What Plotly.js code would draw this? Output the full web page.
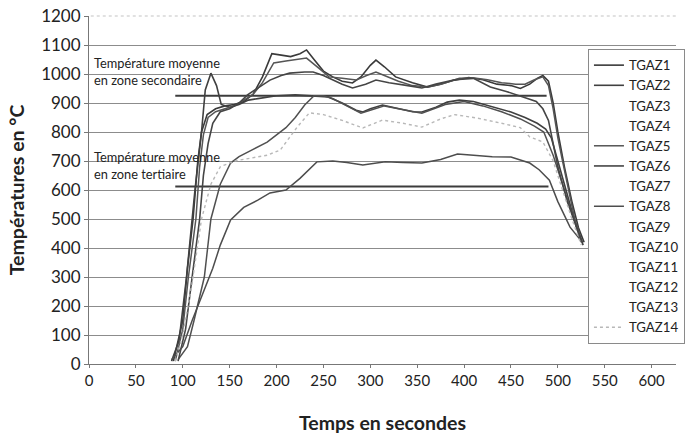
<!DOCTYPE html>
<html>
<head>
<meta charset="utf-8">
<script src="https://cdn.plot.ly/plotly-3.0.1.min.js"></script>
<style>
  html, body { margin: 0; padding: 0; background: #fff; }
  #chart { width: 685px; height: 434px; }
</style>
</head>
<body>
<div id="chart"></div>
<script>
// ---- Data ----
const seriesNames = ["TGAZ1","TGAZ2","TGAZ3","TGAZ4","TGAZ5","TGAZ6","TGAZ7","TGAZ8","TGAZ9","TGAZ10","TGAZ11","TGAZ12","TGAZ13","TGAZ14"];

// TGAZ1 - highest curve (peak ~1080)
const tgaz1T = [90, 100, 105, 111, 116, 120, 126, 135, 145, 155, 165, 175, 185, 195, 205, 215, 225, 232, 240, 250, 260, 270, 281, 290, 300, 306, 315, 327, 345, 361, 375, 390, 405, 420, 435, 450, 460, 470, 478, 484, 490, 495, 500, 507, 515, 522, 528];
const tgaz1V = [10, 150, 330, 500, 700, 800, 860, 880, 890, 895, 905, 930, 990, 1070, 1065, 1060, 1070, 1083, 1050, 1010, 990, 975, 969, 990, 1030, 1048, 1025, 990, 970, 955, 965, 979, 988, 980, 965, 960, 950, 965, 985, 995, 975, 900, 800, 680, 560, 470, 420];

// TGAZ2 - early peak (~1000 at 130 s) then ~920 plateau
const tgaz2T = [88, 96, 104, 113, 120, 124, 130, 136, 141, 150, 160, 170, 180, 190, 200, 220, 240, 255, 270, 285, 292, 300, 313, 330, 345, 355, 370, 382, 395, 410, 424, 440, 450, 465, 478, 487, 493, 500, 510, 520, 527];
const tgaz2V = [10, 80, 300, 600, 800, 945, 1003, 960, 895, 885, 895, 910, 915, 920, 925, 928, 925, 921, 900, 875, 869, 880, 893, 880, 870, 869, 885, 903, 910, 905, 893, 880, 869, 850, 830, 810, 780, 700, 580, 470, 410];

// TGAZ4 - slower rise, ~790 at 200 s, ~925 at 240 s
const tgaz4T = [95, 105, 112, 123, 130, 140, 151, 160, 175, 190, 200, 210, 220, 230, 240, 250, 260, 275, 290, 305, 315, 330, 355, 380, 400, 420, 440, 460, 475, 485, 495, 505, 515, 525];
const tgaz4V = [15, 60, 150, 300, 500, 620, 693, 715, 740, 765, 790, 815, 850, 893, 925, 925, 915, 890, 865, 880, 890, 880, 865, 895, 905, 890, 870, 845, 820, 800, 720, 620, 520, 420];

// TGAZ5 - second highest (peak ~1055)
const tgaz5T = [92, 100, 106, 114, 118, 122, 127, 135, 145, 155, 165, 175, 185, 197, 210, 220, 232, 245, 256, 270, 285, 296, 306, 315, 330, 345, 361, 375, 395, 411, 425, 440, 455, 465, 475, 484, 490, 495, 500, 505, 510, 518, 526];
const tgaz5V = [10, 120, 300, 500, 680, 790, 850, 870, 880, 890, 910, 930, 970, 1038, 1045, 1050, 1055, 1020, 990, 985, 979, 995, 1007, 995, 975, 960, 955, 965, 985, 986, 980, 970, 965, 965, 980, 990, 960, 880, 780, 700, 620, 500, 420];

// TGAZ6 - rises to ~1005 around 215-240 s, declines before the end
const tgaz6T = [95, 103, 110, 118, 122, 127, 132, 140, 150, 160, 169, 180, 193, 205, 214, 230, 239, 250, 260, 270, 281, 295, 306, 320, 340, 355, 370, 390, 410, 428, 445, 463, 477, 484, 490, 495, 500, 510, 520, 526];
const tgaz6V = [10, 120, 300, 500, 650, 760, 830, 870, 880, 900, 928, 950, 979, 995, 1003, 1007, 1007, 995, 980, 965, 952, 965, 979, 970, 960, 952, 965, 980, 985, 955, 940, 921, 905, 880, 840, 760, 680, 560, 470, 420];

// TGAZ8 - lowest curve (~700 plateau)
const tgaz8T = [88, 100, 110, 120, 132, 140, 151, 165, 180, 193, 210, 225, 243, 260, 275, 292, 305, 316, 335, 355, 375, 393, 410, 430, 450, 470, 480, 491, 500, 513, 524];
const tgaz8V = [15, 60, 150, 230, 330, 410, 497, 540, 565, 590, 600, 640, 697, 700, 695, 686, 692, 697, 695, 693, 705, 724, 720, 715, 714, 693, 670, 634, 560, 472, 428];

// TGAZ14 - light dotted curve (~860 plateau)
const tgaz14T = [92, 100, 110, 120, 130, 140, 155, 175, 190, 204, 222, 235, 250, 270, 292, 313, 335, 355, 375, 390, 414, 440, 460, 470, 484, 495, 505, 515, 525];
const tgaz14V = [10, 100, 280, 500, 620, 680, 700, 710, 720, 738, 817, 866, 860, 840, 814, 841, 830, 817, 845, 860, 848, 830, 815, 783, 766, 700, 600, 500, 410];

// Mean temperature lines
const meanSecT = [92, 488];
const meanSecV = [925, 925];
const meanTerT = [92, 490];
const meanTerV = [612, 612];

// Axis ticks
const xTicks = [0, 50, 100, 150, 200, 250, 300, 350, 400, 450, 500, 550, 600];
const yTicks = [0, 100, 200, 300, 400, 500, 600, 700, 800, 900, 1000, 1100, 1200];

// ---- Build traces ----
const curveData = {
  "TGAZ1": {t: tgaz1T, v: tgaz1V, color: "#3a3a3a", width: 1.6, dash: "solid"},
  "TGAZ2": {t: tgaz2T, v: tgaz2V, color: "#404040", width: 1.6, dash: "solid"},
  "TGAZ4": {t: tgaz4T, v: tgaz4V, color: "#505050", width: 1.5, dash: "solid", hideLegendLine: true},
  "TGAZ5": {t: tgaz5T, v: tgaz5V, color: "#555555", width: 1.5, dash: "solid"},
  "TGAZ6": {t: tgaz6T, v: tgaz6V, color: "#454545", width: 1.6, dash: "solid"},
  "TGAZ8": {t: tgaz8T, v: tgaz8V, color: "#4d4d4d", width: 1.5, dash: "solid"},
  "TGAZ14": {t: tgaz14T, v: tgaz14V, color: "#b8b8b8", width: 1.4, dash: "dot"}
};

const traces = [];
traces.push({x: meanSecT, y: meanSecV, mode: "lines", showlegend: false, hoverinfo: "skip",
  line: {color: "#3c3c3c", width: 2}});
traces.push({x: meanTerT, y: meanTerV, mode: "lines", showlegend: false, hoverinfo: "skip",
  line: {color: "#3c3c3c", width: 2.2}});

seriesNames.forEach(function(name){
  const c = curveData[name];
  if (c && !c.hideLegendLine) {
    traces.push({x: c.t, y: c.v, name: name, mode: "lines", legendgroup: name,
      line: {color: c.color, width: c.width, dash: c.dash}});
  } else if (c) {
    traces.push({x: c.t, y: c.v, name: name, mode: "lines", legendgroup: name, showlegend: false,
      line: {color: c.color, width: c.width, dash: c.dash}});
    traces.push({x: [null], y: [null], name: name, mode: "lines", legendgroup: name,
      line: {color: "rgba(0,0,0,0)", width: 0}});
  } else {
    traces.push({x: [null], y: [null], name: name, mode: "lines", legendgroup: name,
      line: {color: "rgba(0,0,0,0)", width: 0}});
  }
});

const fontFam = "Lato, 'Open Sans', sans-serif";

const layout = {
  width: 685, height: 434,
  margin: {l: 89, r: 0, t: 16, b: 70},
  paper_bgcolor: "#ffffff",
  plot_bgcolor: "#ffffff",
  font: {family: fontFam, color: "#222222"},
  showlegend: true,
  legend: {
    x: 0.85, xanchor: "left", y: 0.905, yanchor: "top",
    bgcolor: "#ffffff", bordercolor: "#8a8a8a", borderwidth: 1,
    font: {family: fontFam, size: 13.2, color: "#222222"},
    tracegroupgap: 0
  },
  xaxis: {
    range: [0, 626], tickvals: xTicks, ticktext: xTicks.map(String),
    showgrid: false, zeroline: false,
    showline: true, linecolor: "#777777", linewidth: 1,
    ticks: "outside", ticklen: 3, tickcolor: "#777777",
    tickfont: {family: fontFam, size: 15, color: "#222222"},
    title: {text: "Temps en secondes", font: {family: fontFam, size: 19.5, color: "#222222", weight: "bold"}, standoff: 29},
    automargin: false
  },
  yaxis: {
    range: [0, 1200], tickvals: yTicks, ticktext: yTicks.map(String),
    showgrid: true, gridcolor: "#8c8c8c", gridwidth: 1,
    zeroline: false,
    showline: true, linecolor: "#777777", linewidth: 1,
    ticks: "outside", ticklen: 4, tickcolor: "#777777",
    tickfont: {family: fontFam, size: 17, color: "#222222"},
    title: {text: "Températures en °C", font: {family: fontFam, size: 19.5, color: "#222222", weight: "bold"}, standoff: 11},
    automargin: false
  },
  shapes: [
    // top border of the plot is faint and dotted in the reference
    {type: "line", xref: "paper", yref: "paper", x0: 0.003, x1: 1, y0: 1, y1: 1, layer: "above",
     line: {color: "#ffffff", width: 2.5}},
    {type: "line", xref: "paper", yref: "paper", x0: 0.003, x1: 1, y0: 1, y1: 1, layer: "above",
     line: {color: "#c4c4c4", width: 1.2, dash: "dot"}}
  ],
  annotations: [
    {xref: "x", yref: "y", x: 3, y: 1007, xanchor: "left", yanchor: "middle", showarrow: false, align: "left",
     text: "Température moyenne<br>en zone secondaire", font: {family: fontFam, size: 12.8, color: "#222222"}},
    {xref: "x", yref: "y", x: 3, y: 686, xanchor: "left", yanchor: "middle", showarrow: false, align: "left",
     text: "Température moyenne<br>en zone tertiaire", font: {family: fontFam, size: 12.8, color: "#222222"}}
  ]
};

Plotly.newPlot("chart", traces, layout, {displayModeBar: false, staticPlot: true});
</script>
</body>
</html>
